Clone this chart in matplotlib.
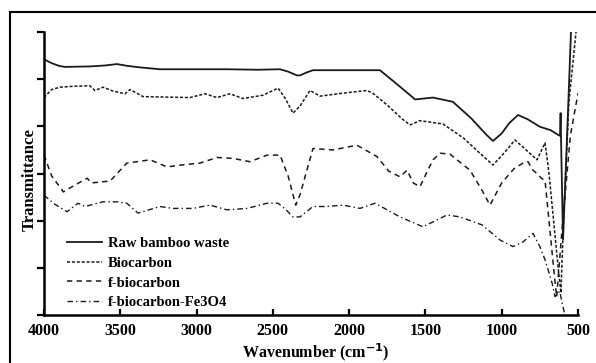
import matplotlib
matplotlib.use("Agg")
import matplotlib.pyplot as plt
from matplotlib.patches import Rectangle

plt.rcParams['font.family'] = ['Liberation Serif', 'DejaVu Serif']
plt.rcParams['font.weight'] = 'bold'

# ---- data (wavenumber cm-1, transmittance a.u.) ----
raw_wn = [4000, 3950, 3900, 3862, 3700, 3600, 3522, 3450, 3371, 3240, 3000, 2800, 2600, 2453,
          2400, 2342, 2322, 2280, 2237, 2000, 1798, 1700, 1600, 1568, 1450, 1320, 1200,
          1100, 1057, 1000, 950, 893, 830, 749, 680, 631, 618, 614, 611, 598, 575, 546, 535]
raw_t = [5.42, 5.34, 5.28, 5.26, 5.27, 5.29, 5.32, 5.28, 5.25, 5.21, 5.21, 5.21, 5.20, 5.21,
         5.16, 5.08, 5.08, 5.14, 5.19, 5.19, 5.19, 4.93, 4.66, 4.57, 4.61, 4.52, 4.17,
         3.82, 3.69, 3.85, 4.07, 4.24, 4.15, 3.99, 3.92, 3.82, 3.80, 4.28, 3.70, 1.60,
         3.50, 6.00, 7.00]

bio_wn = [4000, 3950, 3895, 3800, 3700, 3666, 3613, 3550, 3469, 3436, 3351, 3200, 3043,
          2945, 2866, 2781, 2696, 2564, 2466, 2420, 2368, 2322, 2257, 2191, 2050, 1883,
          1844, 1750, 1650, 1601, 1536, 1385, 1250, 1150, 1057, 980, 913, 840, 769, 716,
          690, 660, 630, 612, 595, 560, 513, 500]
bio_t = [4.61, 4.78, 4.83, 4.85, 4.86, 4.76, 4.83, 4.75, 4.69, 4.78, 4.63, 4.62, 4.61,
         4.69, 4.61, 4.69, 4.59, 4.66, 4.81, 4.60, 4.28, 4.43, 4.76, 4.64, 4.70, 4.76,
         4.70, 4.45, 4.15, 4.03, 4.12, 4.05, 3.75, 3.45, 3.18, 3.45, 3.71, 3.50, 3.29,
         3.65, 3.00, 2.00, 1.00, 0.47, 2.00, 4.50, 6.00, 7.00]

fbio_wn = [4000, 3950, 3873, 3800, 3717, 3690, 3567, 3457, 3305, 3194, 3100, 2978, 2866,
           2761, 2650, 2538, 2453, 2400, 2350, 2322, 2237, 2106, 1949, 1818, 1740, 1667,
           1620, 1580, 1536, 1480, 1450, 1404, 1339, 1208, 1130, 1077, 1000, 920, 861,
           828, 795, 769, 740, 716, 690, 660, 640, 600, 550, 500]
fbio_t = [3.39, 2.95, 2.61, 2.75, 2.90, 2.80, 2.84, 3.22, 3.29, 3.14, 3.18, 3.22, 3.34,
          3.32, 3.25, 3.39, 3.39, 2.95, 2.33, 2.55, 3.53, 3.50, 3.60, 3.36, 3.05, 2.93,
          3.07, 2.80, 2.72, 3.10, 3.29, 3.43, 3.41, 3.07, 2.65, 2.33, 2.80, 3.10, 3.22,
          3.25, 3.07, 3.00, 2.90, 2.85, 2.00, 1.00, 0.38, 2.00, 3.80, 4.70]

fe_wn = [4000, 3930, 3849, 3777, 3731, 3613, 3522, 3457, 3384, 3240, 3154, 3023, 2912,
         2801, 2669, 2538, 2466, 2420, 2368, 2322, 2237, 2150, 2040, 1929, 1830, 1667,
         1516, 1359, 1273, 1129, 1011, 926, 860, 795, 750, 716, 670, 651, 620, 600, 579]
fe_t = [2.54, 2.35, 2.19, 2.37, 2.30, 2.40, 2.40, 2.37, 2.16, 2.30, 2.26, 2.26, 2.33,
        2.23, 2.26, 2.37, 2.37, 2.25, 2.08, 2.08, 2.30, 2.30, 2.33, 2.26, 2.37, 2.08,
        1.87, 2.12, 2.08, 1.91, 1.59, 1.45, 1.55, 1.73, 1.45, 1.17, 0.68, 0.39, 0.50,
        0.20, -0.10]

labels = ["Raw bamboo waste", "Biocarbon", "f-biocarbon", "f-biocarbon-Fe3O4"]
x_ticks = [4000, 3500, 3000, 2500, 2000, 1500, 1000, 500]
y_ticks = [0, 1, 2, 3, 4, 5, 6]

# ---- figure ----
fig = plt.figure(figsize=(5.96, 3.63), dpi=100)
ax = fig.add_axes([44/596, 1-315/363, (578-44)/596, (315-32)/363])

col = '#1a1a1a'
ax.plot(raw_wn, raw_t, color=col, lw=1.3, ls='-', label=labels[0])
ax.plot(bio_wn, bio_t, color=col, lw=1.1, dashes=(2.0, 1.2), label=labels[1])
ax.plot(fbio_wn, fbio_t, color=col, lw=1.1, dashes=(3.5, 2.8), label=labels[2])
ax.plot(fe_wn, fe_t, color=col, lw=1.0, dashes=(4.0, 2.2, 1.0, 2.2), label=labels[3])

ax.set_xlim(4000, 500)
ax.set_ylim(0, 6)
ax.set_xticks(x_ticks)
ax.set_yticks(y_ticks)
ax.set_yticklabels([])
ax.spines['top'].set_visible(False)
ax.spines['right'].set_visible(False)
for s in ('left', 'bottom'):
    ax.spines[s].set_linewidth(1.8)
    ax.spines[s].set_color('black')
ax.tick_params(axis='y', direction='out', length=5, width=1.6)
ax.tick_params(axis='x', direction='in', length=4, width=1.6, labelsize=11.5, pad=6)
for lab in ax.get_xticklabels():
    lab.set_fontweight('bold')

ax.set_xlabel("Wavenumber (cm$^{\\mathbf{-1}}$)", fontsize=11.5, fontweight='bold')
ax.xaxis.set_label_coords((316-44)/534, -(352-315)/283)
ax.xaxis.label.set_va('center')
ax.set_ylabel("Transmittance", fontsize=12, fontweight='bold')
ax.yaxis.set_label_coords(-(44-30)/534, (315-180)/283)
ax.yaxis.label.set_va('center')

leg = ax.legend(loc='lower left', bbox_to_anchor=(0.043, 0.02), frameon=False,
                prop={'family': 'Liberation Serif', 'weight': 'bold', 'size': 10.5},
                handlelength=2.4, handletextpad=0.4, labelspacing=0.45,
                borderpad=0, borderaxespad=0)

# outer frame
fig.patches.append(Rectangle((10/596, -0.2), 1.2, 1-12/363+0.2, transform=fig.transFigure,
                             fill=False, lw=1.5, ec='black', clip_on=False))

fig.savefig("out.png", dpi=100)
